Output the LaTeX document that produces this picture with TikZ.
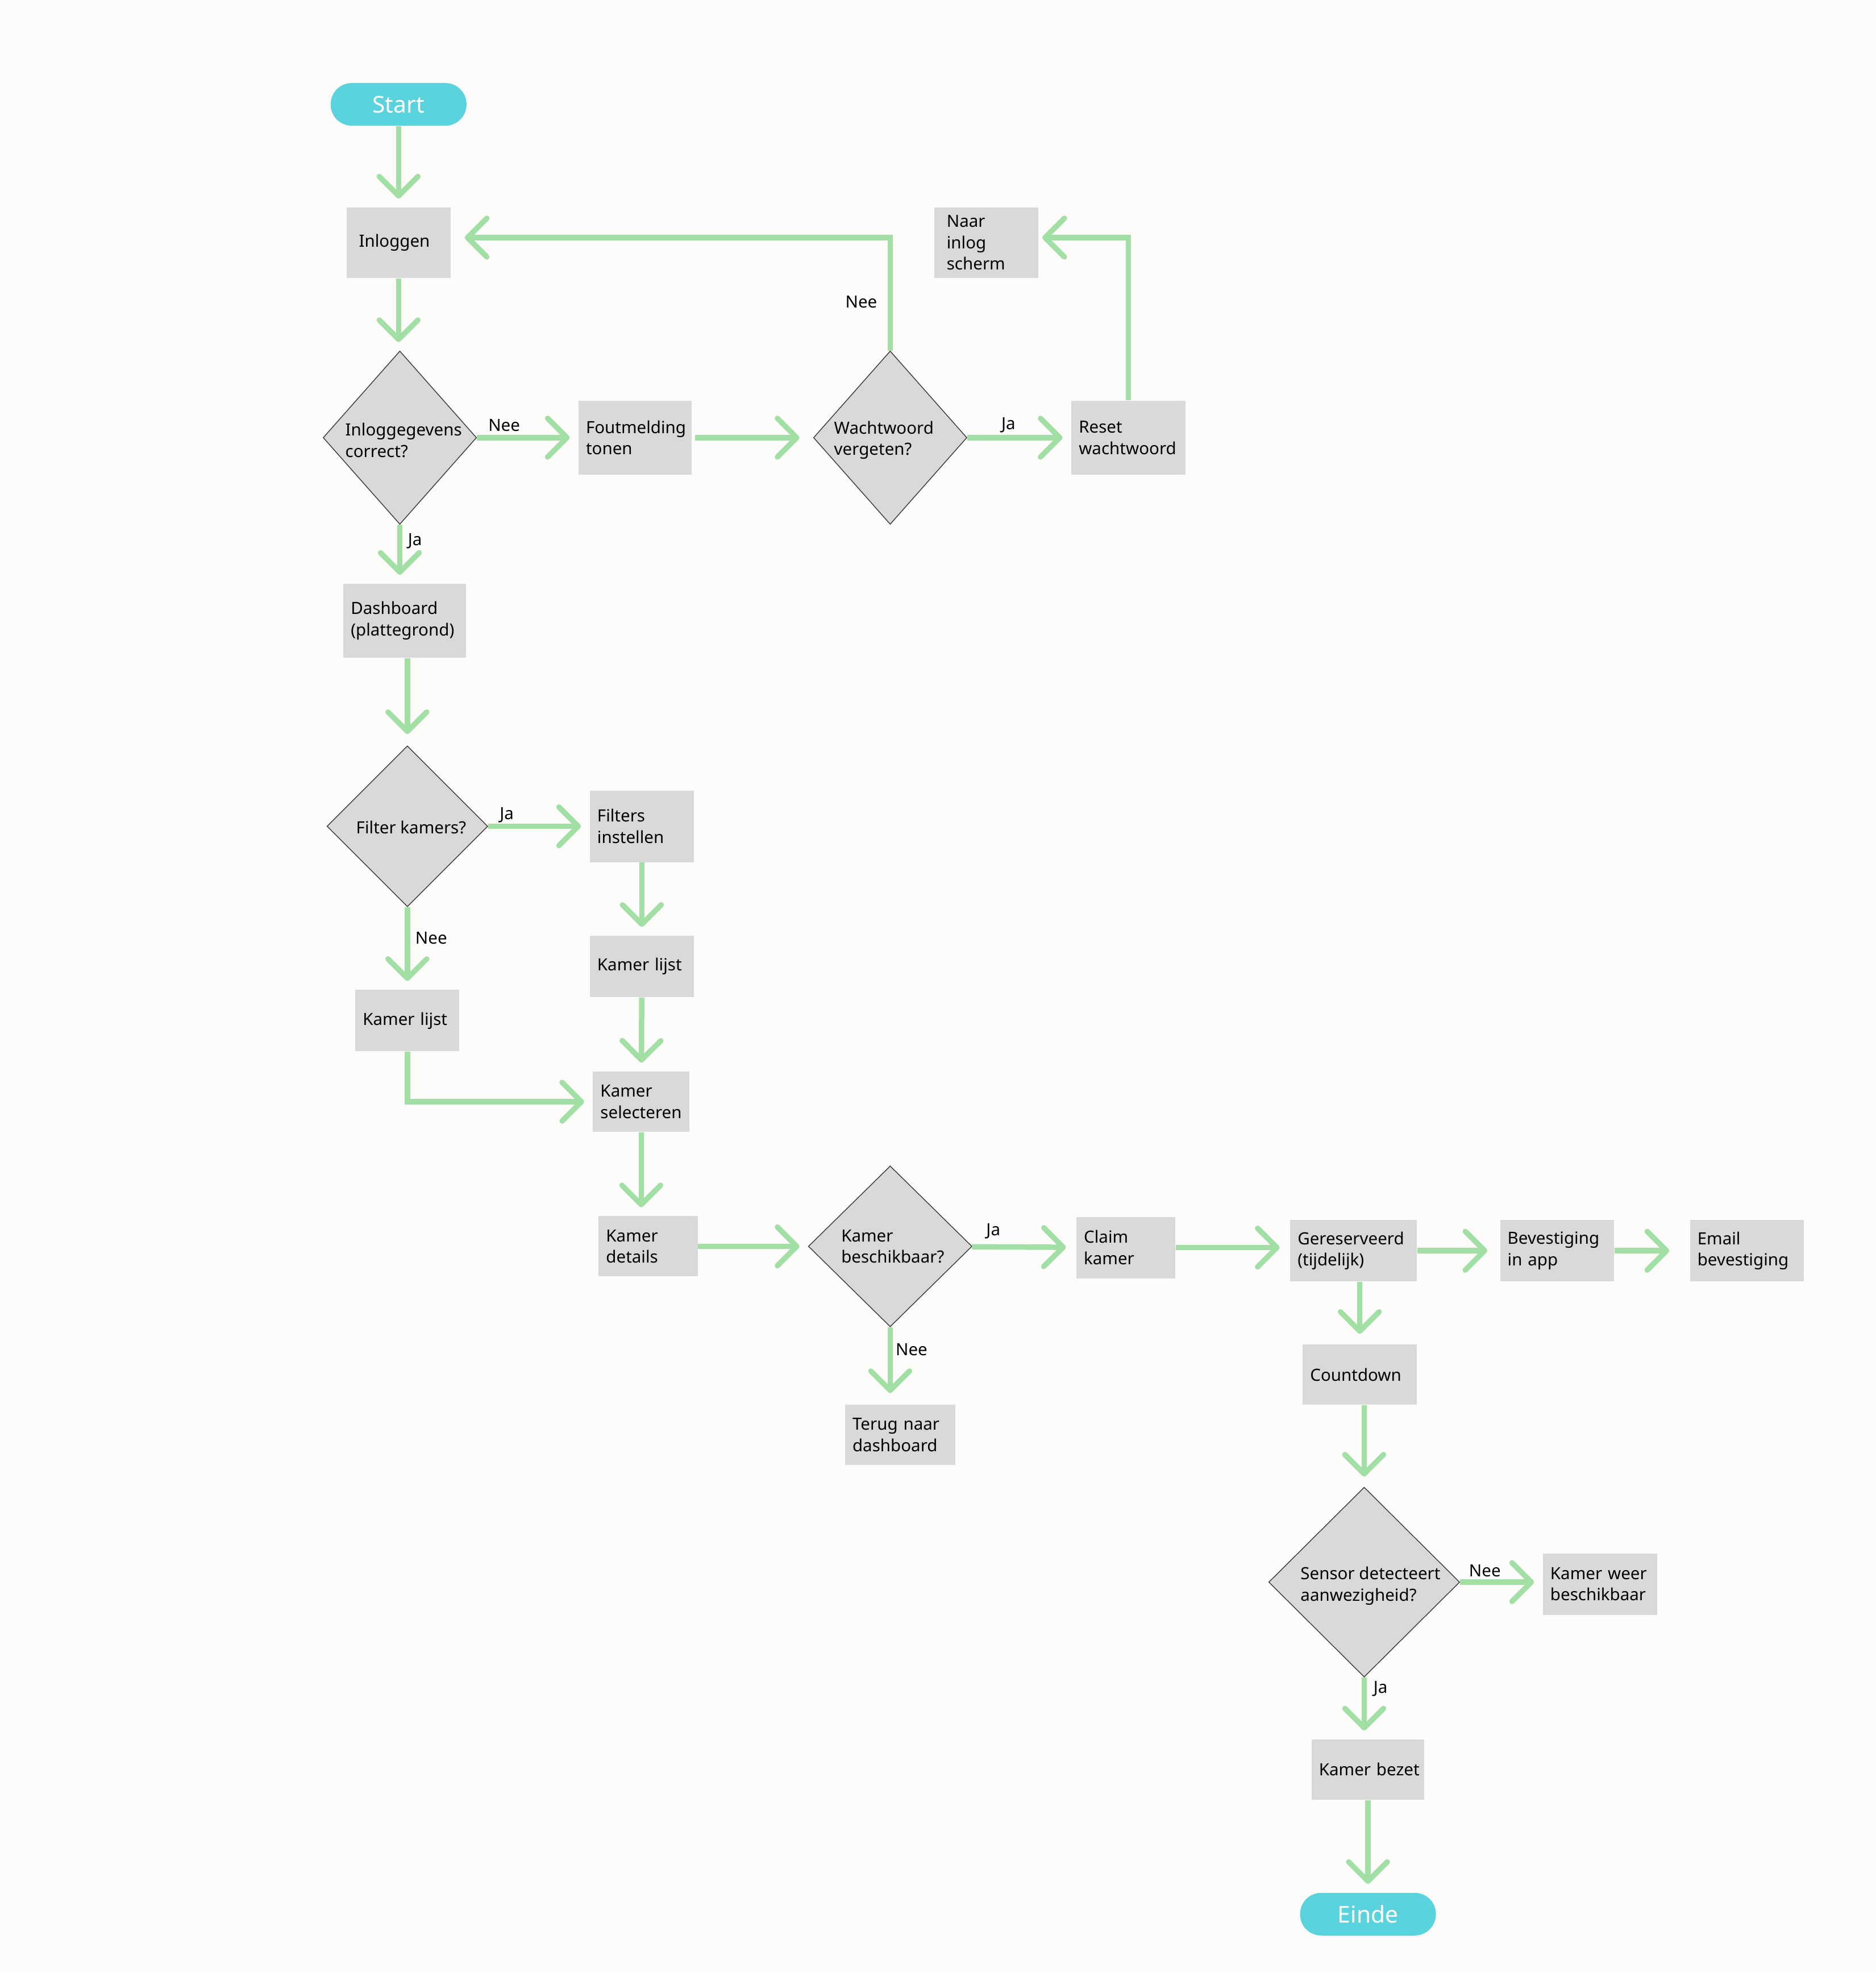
\documentclass[tikz,border=0pt]{standalone}
\usepackage{fontspec}
\setmainfont{Noto Sans}
\usetikzlibrary{arrows.meta,positioning,shapes.geometric,calc}
\definecolor{canvas}{HTML}{FDFCFA}
\definecolor{boxgray}{HTML}{D9D9D9}
\definecolor{edgegray}{HTML}{3A3A3A}
\definecolor{pillcyan}{HTML}{5BD3DC}
\definecolor{flowgreen}{HTML}{A1DFA5}
\newcommand{\boxfont}{\fontsize{8.4}{10.7}\selectfont}
\newcommand{\pillfont}{\fontsize{11.6}{14}\selectfont}
\tikzset{
  terminal/.style={rectangle,rounded corners=3.7mm,fill=pillcyan,text=white,
                   minimum width=2.39cm,minimum height=0.75cm,inner sep=0pt,
                   font=\pillfont},
  stepbox/.style 2 args={rectangle,fill=boxgray,align=left,inner xsep=1.3mm,
                   inner ysep=0pt,text width=#1,minimum height=#2,font=\boxfont},
  widepad/.style={inner xsep=2.2mm,text width=1.396cm},
  decision/.style={diamond,draw=edgegray,fill=boxgray,line width=0.4pt,
                   inner sep=0pt},
  dtext/.style={align=left,font=\boxfont,inner sep=0pt},
  lbl/.style={font=\boxfont,inner sep=0pt},
  flow/.style={draw=flowgreen,line width=2.7pt,
               -{Straight Barb[length=3.4mm,width=6.8mm,round]},
               shorten >=1.5mm}
}

\begin{document}
\begin{tikzpicture}[x=0.022118cm,y=-0.022118cm]
  \fill[canvas] (0,0) rectangle (1492,1568);
  \useasboundingbox (0,0) rectangle (1492,1568);

  % inloggen
  \node[terminal] (start) at (317,83) {Start};
  \node[stepbox={1.57cm}{1.24cm},widepad] (login) at (317,193) {Inloggen};
  \node[decision,minimum width=2.70cm,minimum height=3.05cm] (check) at (318,348) {};
  \node[dtext] (checktxt) at (321,350) {Inloggegevens\\correct?};
  \node[stepbox={1.725cm}{1.30cm}] (error) at (505,348) {Foutmelding\\tonen};
  \node[decision,minimum width=2.70cm,minimum height=3.05cm] (forgot) at (708,348) {};
  \node[dtext] (forgottxt) at (703,350) {Wachtwoord\\vergeten?};
  \node[stepbox={1.747cm}{1.30cm}] (reset) at (897.5,348) {Reset\\wachtwoord};
  \node[stepbox={1.57cm}{1.24cm},widepad] (tologin) at (784.5,193) {Naar\\inlog\\scherm};

  % dashboard en kamers
  \node[stepbox={1.902cm}{1.30cm}] (dash) at (322,493.5) {Dashboard\\(plattegrond)};
  \node[decision,minimum width=2.83cm,minimum height=2.83cm] (filterq) at (324,657) {};
  \node[dtext] (filterqtxt) at (327,658) {Filter kamers?};
  \node[stepbox={1.57cm}{1.26cm}] (filters) at (510.5,657) {Filters\\instellen};
  \node[stepbox={1.57cm}{1.08cm}] (listB) at (510.5,768.5) {Kamer~lijst};
  \node[stepbox={1.57cm}{1.08cm}] (listA) at (324,811.5) {Kamer~lijst};
  \node[stepbox={1.437cm}{1.06cm}] (select) at (510,876) {Kamer\\selecteren};
  \node[stepbox={1.481cm}{1.06cm}] (details) at (515.5,991) {Kamer\\details};

  % reserveren
  \node[decision,minimum width=2.88cm,minimum height=2.83cm] (avail) at (708,991) {};
  \node[dtext] (availtxt) at (710,991) {Kamer\\beschikbaar?};
  \node[stepbox={1.481cm}{1.08cm}] (claim) at (895.5,992) {Claim\\kamer};
  \node[stepbox={1.968cm}{1.08cm}] (reserved) at (1076.5,994.5) {Gereserveerd\\(tijdelijk)};
  \node[stepbox={1.747cm}{1.08cm}] (confirm) at (1238.5,994.5) {Bevestiging\\in~app};
  \node[stepbox={1.747cm}{1.08cm}] (email) at (1389.5,994.5) {Email\\bevestiging};
  \node[stepbox={1.68cm}{1.06cm}] (back) at (716,1141) {Terug~naar\\dashboard};
  \node[stepbox={1.747cm}{1.06cm}] (countdown) at (1081.5,1093) {Countdown};
  \node[decision,minimum width=3.36cm,minimum height=3.34cm] (sensor) at (1085,1258) {};
  \node[dtext] (sensortxt) at (1090,1261) {Sensor~detecteert\\aanwezigheid?};
  \node[stepbox={1.747cm}{1.08cm}] (free) at (1272.5,1259.5) {Kamer~weer\\beschikbaar};
  \node[stepbox={1.725cm}{1.06cm}] (busy) at (1088,1407) {Kamer~bezet};
  \node[terminal] (finish) at (1088,1522) {Einde};

  % verbindingen
  \draw[flow] (start) -- (login);
  \draw[flow] (login.south) -- (login.south |- check.north);
  \draw[flow] (check) -- (error);
  \draw[flow,shorten <=0.6mm,shorten >=2.4mm] (error) -- (forgot);
  \draw[flow] (forgot) -- (reset);
  \draw[flow,shorten >=2.4mm] (forgot.north) |- ([yshift=0.9mm]login.east);
  \draw[flow,shorten >=0.6mm] (reset.north) |- ([yshift=0.9mm]tologin.east);
  \draw[flow] (check.south) -- (check.south |- dash.north);
  \draw[flow,shorten >=2mm] (dash.south -| filterq) -- (filterq.north);
  \draw[flow] (filterq) -- (filters);
  \draw[flow] (filters) -- (listB);
  \draw[flow] (listB) -- (select);
  \draw[flow] (filterq.south) -- (filterq.south |- listA.north);
  \draw[flow] (listA.south) |- (select.west);
  \draw[flow] (select.south) -- (select.south |- details.north);
  \draw[flow] (details) -- (avail);
  \draw[flow,shorten >=1.8mm] (avail) -- (claim);
  \draw[flow,shorten >=1.8mm] (claim.east) -- (claim.east -| reserved.west);
  \draw[flow,shorten >=2.2mm] (reserved) -- (confirm);
  \draw[flow,shorten >=3.6mm] (confirm) -- (email);
  \draw[flow,shorten >=2mm] (avail.south) -- (avail.south |- back.north);
  \draw[flow,shorten >=1.8mm] (countdown.north |- reserved.south) -- (countdown.north);
  \draw[flow,shorten >=1.8mm] (countdown.south -| sensor) -- (sensor.north);
  \draw[flow] (sensor.east) -- (sensor.east -| free.west);
  \draw[flow] (sensor.south) -- (sensor.south |- busy.north);
  \draw[flow] (busy) -- (finish);

  % labels
  \node[lbl] (checkno) at (401,338) {Nee};
  \node[lbl] (checkyes) at (330,430) {Ja};
  \node[lbl] (forgotno) at (685,240) {Nee};
  \node[lbl] (forgotyes) at (802,338) {Ja};
  \node[lbl] (filteryes) at (403,648) {Ja};
  \node[lbl] (filterno) at (343,746) {Nee};
  \node[lbl] (availyes) at (790,979) {Ja};
  \node[lbl] (availno) at (725,1073) {Nee};
  \node[lbl] (sensorno) at (1181,1249) {Nee};
  \node[lbl] (sensoryes) at (1098,1343) {Ja};
\end{tikzpicture}
\end{document}
